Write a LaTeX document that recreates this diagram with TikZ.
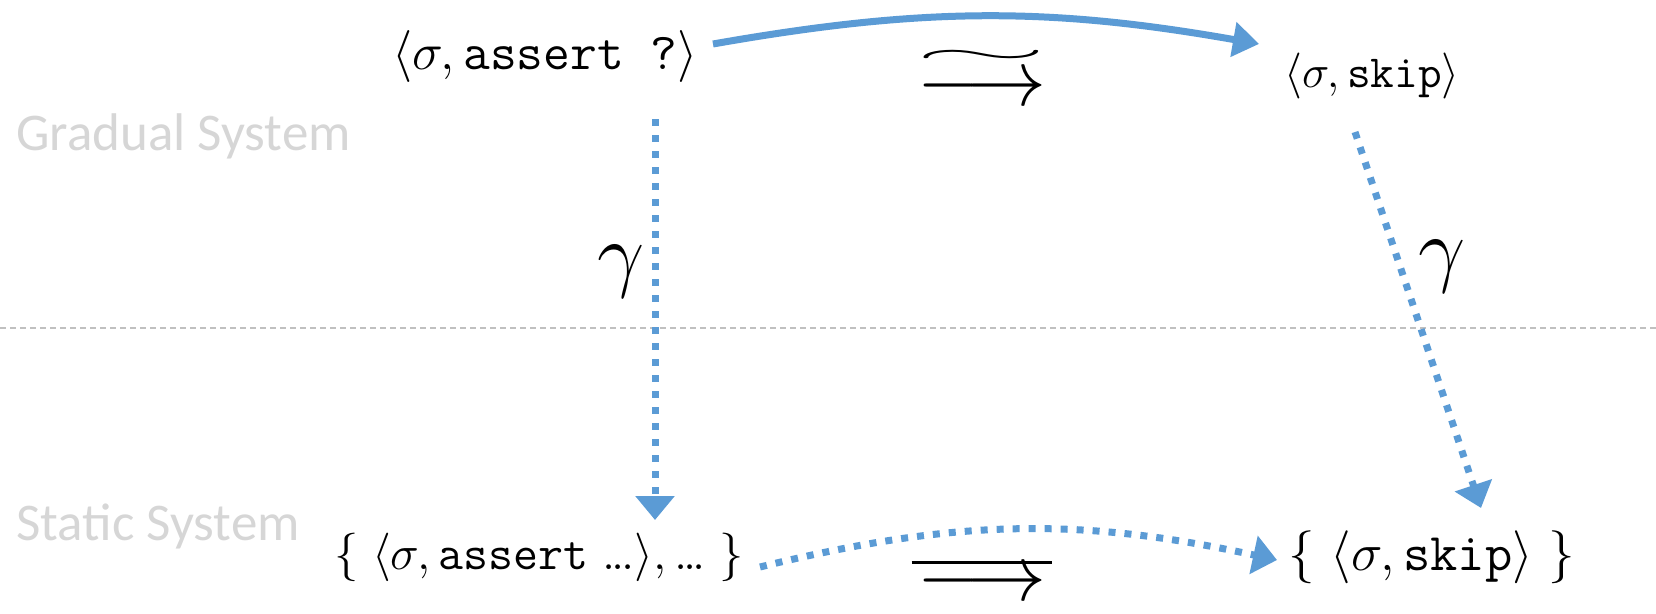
\RequirePackage{fix-cm}
\documentclass[tikz,border=0pt]{standalone}
\usepackage{exscale}
\usepackage{amsmath}
\usepackage{graphicx}
\usepackage{fontspec}
\newfontfamily\labelfont{Carlito}
\usetikzlibrary{arrows.meta}
\definecolor{arrowblue}{HTML}{5B9BD5}
\definecolor{labelgray}{HTML}{D6D6D6}
\definecolor{rulegray}{HTML}{C0C0C0}
\newcommand{\tdots}{.\mkern-1.5mu.\mkern-1.5mu.}
\begin{document}
\begin{tikzpicture}[x=1pt,y=-1pt,
  mathtext/.style={inner sep=0pt, font=\fontsize{50}{56}\selectfont},
  bigsym/.style={inner sep=0pt, anchor=base, font=\fontsize{80}{90}\selectfont},
  gammasym/.style={inner sep=0pt, anchor=base, font=\fontsize{84}{90}\selectfont},
  syslabel/.style={anchor=base west, inner sep=0pt, text=labelgray, font=\labelfont\fontsize{53}{60}\selectfont},
  solidarrow/.style={draw=arrowblue, line width=7pt, -{Triangle[width=34pt,length=26pt]}},
  dotarrow/.style={draw=arrowblue, line width=7pt, dash pattern=on 7pt off 9pt, -{Triangle[width=38pt,length=24pt]}},
  divider/.style={draw=rulegray, line width=1.5pt, dash pattern=on 6pt off 4pt}]
\useasboundingbox (0,0) rectangle (1656,613);
% divider
\coordinate (dl) at (0,328);
\coordinate (dr) at (1656,328);
\draw[divider] (dl) -- (dr);
% labels
\node[syslabel] (grad) at (16,150) {Gradual System};
\node[syslabel] (stat) at (16,540) {Static System};
% configurations
\node[mathtext, font=\fontsize{52}{58}\selectfont] (tl) at (545,56) {$\langle\sigma,\texttt{assert ?}\rangle$};
\node[mathtext, font=\fontsize{46}{52}\selectfont] (tr) at (1372,76) {$\langle\sigma,\texttt{skip}\rangle$};
\node[mathtext, font=\fontsize{48.5}{54}\selectfont] (bl) at (539,557) {$\{\;\langle\sigma,\texttt{assert}\ \tdots\rangle,\tdots\;\}$};
\node[mathtext, font=\fontsize{53}{58}\selectfont] (br) at (1432,557) {$\{\hspace{0.3em}\langle\sigma,\texttt{skip}\rangle\hspace{0.3em}\}$};
% step symbols
\node[bigsym] (tstep) at (982,105) {$\longrightarrow$};
\node[inner sep=0pt, font=\fontsize{80}{90}\selectfont] (tilde) at (981,57) {\scalebox{2.15}[0.45]{$\sim$}};
\node[bigsym] (bstep) at (982,600) {\ooalign{\hss$\longrightarrow$\hss\cr\hss\rule[0.45em]{1.76em}{0.04em}\hss\cr}};
\node[gammasym] (g1) at (621,281) {$\gamma$};
\node[gammasym] (g2) at (1442,276) {$\gamma$};
% arrows
\coordinate (a1s) at (713,44);
\coordinate (a1e) at (1259,44);
\draw[solidarrow] (a1s) to[bend left=10] (a1e);
\coordinate (d1s) at (655,119);
\coordinate (d1e) at (655,520);
\draw[dotarrow] (d1s) -- (d1e);
\coordinate (d2s) at (1355,132);
\coordinate (d2e) at (1481,508);
\draw[dotarrow] (d2s) -- (d2e);
\coordinate (d3s) at (760,567);
\coordinate (d3e) at (1277,560);
\draw[dotarrow] (d3s) to[bend left=13] (d3e);
\end{tikzpicture}
\end{document}
